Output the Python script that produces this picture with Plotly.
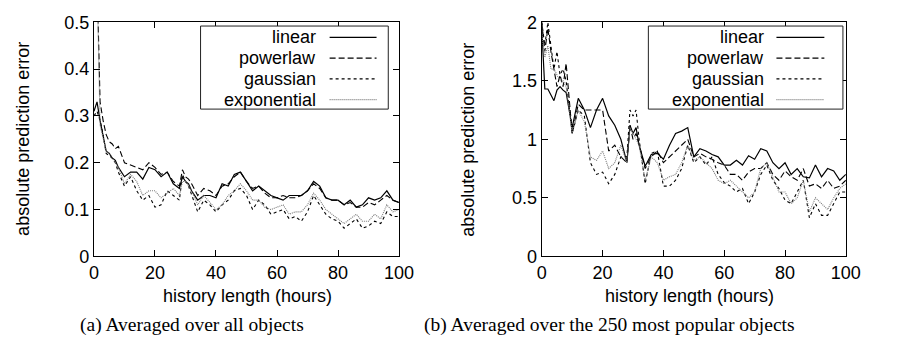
import plotly.graph_objects as go

W, H = 899, 356

# ---------------- data ----------------
hours = [0, 1, 2, 3, 4, 5, 6, 7, 8,
         10, 12, 14, 16, 18, 20, 22, 24, 26, 28,
         29, 30, 31,
         32, 34, 36, 38, 40, 42, 44, 46, 48, 50,
         52, 54, 56, 58, 60, 62, 64, 66, 68, 70,
         72, 74, 76, 78, 80, 82, 84, 86, 88, 90,
         92, 94, 96, 98, 100]

series_names = ["linear", "powerlaw", "gaussian", "exponential"]

a_linear = [.31, .33, .29, .26, .225, .22, .21, .205, .19,
            .17, .18, .18, .165, .19, .185, .17, .18, .155, .145,
            .17, .16, .155,
            .14, .12, .13, .13, .125, .155, .15, .175, .18, .16,
            .14, .15, .14, .13, .125, .12, .13, .13, .13, .14,
            .16, .15, .125, .12, .12, .11, .12, .105, .11, .125,
            .12, .125, .14, .12, .115]
a_powerlaw = [.6, .6, .33, .29, .26, .245, .24, .23, .235,
              .20, .195, .19, .185, .20, .19, .175, .18, .16, .15,
              .185, .17, .165,
              .155, .13, .145, .14, .13, .15, .155, .17, .18, .16,
              .145, .15, .135, .125, .125, .13, .125, .125, .13, .14,
              .155, .145, .125, .12, .12, .11, .115, .105, .105, .115,
              .11, .12, .13, .12, .115]
a_gaussian = [.30, .31, .29, .26, .22, .215, .21, .20, .18,
              .15, .17, .14, .12, .13, .105, .11, .14, .13, .12,
              .175, .16, .15,
              .13, .095, .12, .11, .095, .11, .12, .14, .145, .13,
              .10, .12, .11, .09, .095, .10, .08, .085, .075, .095,
              .13, .11, .09, .08, .075, .06, .07, .08, .06, .065,
              .075, .07, .095, .085, .085]
a_exponential = [.6, .6, .28, .25, .225, .22, .21, .20, .19,
                 .155, .175, .16, .13, .14, .14, .125, .135, .145, .13,
                 .16, .16, .15,
                 .14, .11, .13, .115, .10, .11, .13, .14, .155, .14,
                 .12, .12, .105, .10, .105, .11, .09, .095, .095, .11,
                 .135, .12, .10, .09, .08, .07, .08, .09, .075, .075,
                 .09, .08, .11, .095, .10]

b_linear = [1.95, 1.43, 1.43, 1.38, 1.33, 1.42, 1.45, 1.42, 1.40,
            1.10, 1.35, 1.25, 1.10, 1.25, 1.35, 1.20, 1.12, 1.0, 0.80,
            1.12, 1.05, 1.10,
            0.95, 0.77, 0.87, 0.88, 0.83, 0.95, 1.05, 1.07, 1.10, 0.85,
            0.92, 0.90, 0.87, 0.85, 0.78, 0.78, 0.82, 0.78, 0.86, 0.83,
            0.92, 0.90, 0.80, 0.75, 0.80, 0.70, 0.75, 0.68, 0.67, 0.78,
            0.68, 0.75, 0.73, 0.65, 0.70]
b_powerlaw = [2.0, 1.75, 1.95, 1.75, 1.6, 1.45, 1.55, 1.45, 1.65,
              1.05, 1.30, 1.25, 1.25, 1.25, 1.25, 0.90, 0.95, 0.85, 0.80,
              1.12, 1.0, 1.05,
              0.95, 0.75, 0.85, 0.90, 0.80, 0.85, 0.90, 0.95, 1.0, 0.85,
              0.88, 0.85, 0.83, 0.80, 0.78, 0.70, 0.70, 0.65, 0.72, 0.75,
              0.75, 0.80, 0.70, 0.65, 0.73, 0.68, 0.65, 0.75, 0.60, 0.62,
              0.58, 0.65, 0.58, 0.60, 0.65]
b_gaussian = [2.0, 1.8, 2.0, 1.8, 1.6, 1.75, 1.55, 1.6, 1.5,
              1.05, 1.25, 1.20, 0.80, 0.70, 0.72, 0.62, 0.70, 0.85, 0.85,
              1.25, 1.20, 1.25,
              1.0, 0.62, 0.88, 0.90, 0.60, 0.60, 0.65, 0.75, 0.95, 0.80,
              0.85, 0.78, 0.85, 0.70, 0.63, 0.60, 0.55, 0.58, 0.45, 0.55,
              0.70, 0.78, 0.65, 0.58, 0.48, 0.45, 0.55, 0.65, 0.33, 0.45,
              0.35, 0.35, 0.45, 0.55, 0.55]
b_exponential = [1.9, 1.7, 1.8, 1.6, 1.6, 1.55, 1.5, 1.5, 1.45,
                 1.05, 1.25, 1.15, 0.85, 0.82, 0.90, 0.75, 0.80, 0.95, 0.80,
                 1.10, 1.05, 1.0,
                 0.95, 0.65, 0.85, 0.80, 0.65, 0.68, 0.70, 0.80, 0.95, 0.82,
                 0.85, 0.80, 0.75, 0.65, 0.62, 0.65, 0.60, 0.55, 0.50, 0.55,
                 0.75, 0.80, 0.68, 0.55, 0.55, 0.45, 0.50, 0.65, 0.38, 0.50,
                 0.45, 0.40, 0.50, 0.58, 0.62]

a_yticks = [0, 0.1, 0.2, 0.3, 0.4, 0.5]
a_yticktext = ["0", "0.1", "0.2", "0.3", "0.4", "0.5"]
b_yticks = [0, 0.5, 1, 1.5, 2]
b_yticktext = ["0", "0.5", "1", "1.5", "2"]
xticks = [0, 20, 40, 60, 80, 100]

x_title = "history length (hours)"
y_title = "absolute prediction error"
caption_a = "(a) Averaged over all objects"
caption_b = "(b) Averaged over the 250 most popular objects"

# ---------------- styles ----------------
styles = {
    "linear": dict(color="black", width=1.2, dash="solid"),
    "powerlaw": dict(color="black", width=1.1, dash="6px,3px"),
    "gaussian": dict(color="black", width=1.1, dash="3px,3px"),
    "exponential": dict(color="#7a7a7a", width=1.1, dash="1px,1px"),
}

def px(x):
    return x / W

def py(y):
    return 1 - y / H

fig = go.Figure()

a_data = [a_linear, a_powerlaw, a_gaussian, a_exponential]
b_data = [b_linear, b_powerlaw, b_gaussian, b_exponential]

for name, ys in zip(series_names, a_data):
    fig.add_trace(go.Scatter(x=hours, y=ys, mode="lines", name=name,
                             line=styles[name], xaxis="x", yaxis="y",
                             showlegend=False, cliponaxis=True))
for name, ys in zip(series_names, b_data):
    fig.add_trace(go.Scatter(x=hours, y=ys, mode="lines", name=name,
                             line=styles[name], xaxis="x2", yaxis="y2",
                             showlegend=False, cliponaxis=True))

FONT = "Liberation Sans, Arial, sans-serif"
tickfont = dict(family=FONT, size=18, color="black")

axis_common = dict(showline=True, linecolor="black", linewidth=1.2,
                   mirror="allticks", ticks="inside", ticklen=6,
                   tickcolor="black", tickwidth=1, showgrid=False,
                   zeroline=False, tickfont=tickfont, fixedrange=True)

yd = [py(261), py(13)]
fig.update_layout(
    width=W, height=H,
    margin=dict(l=0, r=0, t=0, b=0),
    paper_bgcolor="white", plot_bgcolor="white",
    xaxis=dict(domain=[px(91), px(403)], range=[0, 100], tickvals=xticks,
               anchor="y", **axis_common),
    yaxis=dict(domain=yd, range=[0, 0.5], tickvals=a_yticks,
               ticktext=a_yticktext, anchor="x", **axis_common),
    xaxis2=dict(domain=[px(549), px(860)], range=[0, 100], tickvals=xticks,
                anchor="y2", **axis_common),
    yaxis2=dict(domain=yd, range=[0, 2], tickvals=b_yticks,
                ticktext=b_yticktext, anchor="x2", **axis_common),
    showlegend=False,
)

ann = []
shapes = []
textfont = dict(family=FONT, size=18, color="black")

# axis titles
for cx in (248, 700):
    ann.append(dict(x=px(cx), y=py(303), xref="paper", yref="paper",
                    text=x_title, showarrow=False, font=textfont,
                    xanchor="center", yanchor="middle"))
for cx in (19, 474):
    ann.append(dict(x=px(cx), y=py(137), xref="paper", yref="paper",
                    text=y_title, showarrow=False, font=textfont,
                    textangle=-90, xanchor="center", yanchor="middle"))

# captions
capfont = dict(family="Liberation Serif, Times New Roman, serif", size=19.5,
               color="black")
ann.append(dict(x=px(191), y=py(334), xref="paper", yref="paper",
                text=caption_a, showarrow=False, font=capfont,
                xanchor="center", yanchor="middle"))
ann.append(dict(x=px(618), y=py(334), xref="paper", yref="paper",
                text=caption_b, showarrow=False, font=capfont,
                xanchor="center", yanchor="middle"))

# legends (gnuplot style: label right-aligned, sample on the right)
rows = [29, 51, 73, 95]
for (bx0, bx1, tx, lx0, lx1) in [(200, 392, 320, 332, 380),
                                 (658, 857, 778, 789, 838)]:
    shapes.append(dict(type="rect", xref="paper", yref="paper",
                       x0=px(bx0), x1=px(bx1), y0=py(105), y1=py(17),
                       line=dict(color="#222222", width=1),
                       fillcolor="white", layer="above"))
    for name, ry in zip(series_names, rows):
        ann.append(dict(x=px(tx), y=py(ry), xref="paper", yref="paper",
                        text=name, showarrow=False, font=textfont,
                        xanchor="right", yanchor="middle"))
        st = styles[name]
        shapes.append(dict(type="line", xref="paper", yref="paper",
                           x0=px(lx0), x1=px(lx1), y0=py(ry), y1=py(ry),
                           line=dict(color=st["color"], width=st["width"],
                                     dash=st["dash"]),
                           layer="above"))

fig.update_layout(annotations=ann, shapes=shapes)
fig.write_html("out.html")
